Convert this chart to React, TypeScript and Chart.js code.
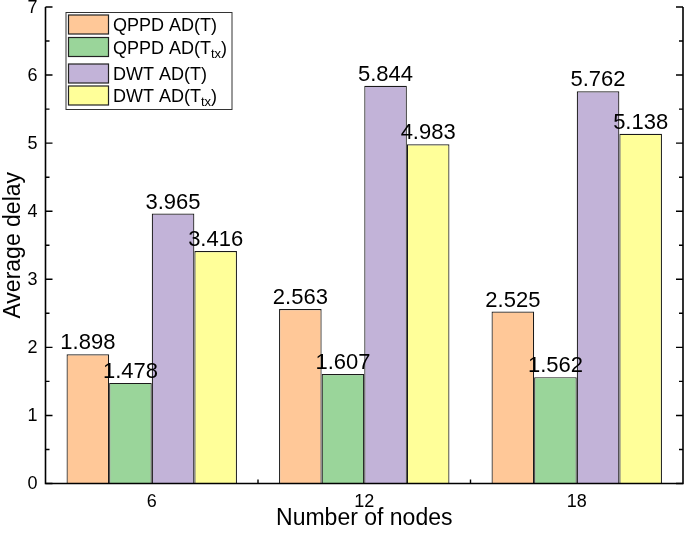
import React, { useEffect, useRef } from "react";
import { Chart, registerables } from "chart.js";

Chart.register(...registerables);

const categories = ["6", "12", "18"];
const qppdT = [1.898, 2.563, 2.525];
const qppdTtx = [1.478, 1.607, 1.562];
const dwtT = [3.965, 5.844, 5.762];
const dwtTtx = [3.416, 4.983, 5.138];
const yTicks = [0, 1, 2, 3, 4, 5, 6, 7];
const seriesNames = ["QPPD AD(T)", "QPPD AD(T_tx)", "DWT AD(T)", "DWT AD(T_tx)"];
const seriesColors = ["#FFC898", "#9AD59A", "#C2B3D8", "#FFFF99"];

const FONT = '"Liberation Sans", Arial, Helvetica, sans-serif';

const customPlugin = {
  id: "custom",
  afterDatasetsDraw(chart: any) {
    const ctx = chart.ctx as CanvasRenderingContext2D;
    const area = chart.chartArea;
    const xs = chart.scales.x;
    const ys = chart.scales.y;
    ctx.save();
    // axes
    ctx.strokeStyle = "#000";
    ctx.lineWidth = 1.6;
    ctx.beginPath();
    ctx.moveTo(area.left, area.top);
    ctx.lineTo(area.left, area.bottom);
    ctx.lineTo(area.right, area.bottom);
    ctx.lineTo(area.right, area.top);
    ctx.stroke();
    // y ticks
    ctx.lineWidth = 1.4;
    for (let i = 0; i < yTicks.length; i++) {
      const v = yTicks[i];
      const y = ys.getPixelForValue(v);
      ctx.beginPath();
      ctx.moveTo(area.left, y);
      ctx.lineTo(area.left + 7, y);
      ctx.moveTo(area.right, y);
      ctx.lineTo(area.right - 7, y);
      ctx.stroke();
      if (i < yTicks.length - 1) {
        const ym = ys.getPixelForValue(v + 0.5);
        ctx.beginPath();
        ctx.moveTo(area.left, ym);
        ctx.lineTo(area.left + 4, ym);
        ctx.moveTo(area.right, ym);
        ctx.lineTo(area.right - 4, ym);
        ctx.stroke();
      }
    }
    // x minor ticks between categories
    for (let i = 0; i < categories.length - 1; i++) {
      const x = (xs.getPixelForValue(i) + xs.getPixelForValue(i + 1)) / 2;
      ctx.beginPath();
      ctx.moveTo(x, area.bottom);
      ctx.lineTo(x, area.bottom - 4);
      ctx.stroke();
    }
    // tick labels
    ctx.fillStyle = "#000";
    ctx.font = `18px ${FONT}`;
    ctx.textAlign = "right";
    ctx.textBaseline = "middle";
    yTicks.forEach((v) => {
      ctx.fillText(String(v), area.left - 8, ys.getPixelForValue(v) + 1);
    });
    ctx.textAlign = "center";
    ctx.textBaseline = "middle";
    categories.forEach((c, i) => {
      ctx.fillText(c, xs.getPixelForValue(i), area.bottom + 19);
    });
    // axis titles
    ctx.font = `23px ${FONT}`;
    ctx.textBaseline = "middle";
    ctx.fillText("Number of nodes", (area.left + area.right) / 2, 519);
    ctx.save();
    ctx.translate(14, (area.top + area.bottom) / 2);
    ctx.rotate(-Math.PI / 2);
    ctx.fillText("Average delay", 0, 0);
    ctx.restore();
    // data labels
    ctx.font = `22px ${FONT}`;
    ctx.textAlign = "center";
    ctx.textBaseline = "alphabetic";
    chart.data.datasets.forEach((ds: any, di: number) => {
      const meta = chart.getDatasetMeta(di);
      meta.data.forEach((bar: any, i: number) => {
        ctx.fillText(ds.data[i].toFixed(3), bar.x, bar.y - 5);
      });
    });
    // legend
    const lx = 66, ly = 12.5, lw = 166, lh = 97;
    ctx.fillStyle = "#fff";
    ctx.fillRect(lx, ly, lw, lh);
    ctx.strokeStyle = "#333";
    ctx.lineWidth = 1;
    ctx.strokeRect(lx, ly, lw, lh);
    const centers = [24.5, 47, 73.5, 95.5];
    seriesNames.forEach((name, i) => {
      const cy = centers[i];
      ctx.fillStyle = seriesColors[i];
      ctx.fillRect(68.5, cy - 9.5, 40, 19);
      ctx.strokeStyle = "#222";
      ctx.lineWidth = 1.2;
      ctx.strokeRect(68.5, cy - 9.5, 40, 19);
      ctx.fillStyle = "#000";
      ctx.textAlign = "left";
      ctx.textBaseline = "alphabetic";
      const base = cy + 6.5;
      let x = 113;
      if (name.includes("_tx")) {
        const main = name.replace("_tx)", "");
        ctx.font = `18px ${FONT}`;
        ctx.fillText(main, x, base);
        x += ctx.measureText(main).width;
        ctx.font = `13px ${FONT}`;
        ctx.fillText("tx", x, base + 4);
        x += ctx.measureText("tx").width;
        ctx.font = `18px ${FONT}`;
        ctx.fillText(")", x, base);
      } else {
        ctx.font = `18px ${FONT}`;
        ctx.fillText(name, x, base);
      }
    });
    ctx.restore();
  },
};

export default function App() {
  const ref = useRef<HTMLCanvasElement | null>(null);
  useEffect(() => {
    if (!ref.current) return;
    const allSeries = [qppdT, qppdTtx, dwtT, dwtTtx];
    const chart = new Chart(ref.current, {
      type: "bar",
      data: {
        labels: categories,
        datasets: allSeries.map((d, i) => ({
          label: seriesNames[i],
          data: d,
          backgroundColor: seriesColors[i],
          borderColor: "#1a1a1a",
          borderWidth: 1.2,
          categoryPercentage: 0.802,
          barPercentage: 1,
        })),
      },
      options: {
        responsive: false,
        animation: false,
        layout: { padding: { left: 45.5, top: 7, right: 2, bottom: 60.5 } },
        plugins: { legend: { display: false }, tooltip: { enabled: false } },
        scales: {
          x: { display: false },
          y: { display: false, min: 0, max: 7 },
        },
      },
      plugins: [customPlugin],
    });
    return () => chart.destroy();
  }, []);
  return (
    <div style={{ position: "fixed", left: 0, top: 0, width: 685, height: 544, background: "#fff" }}>
      <canvas ref={ref} width={685} height={544} />
    </div>
  );
}
